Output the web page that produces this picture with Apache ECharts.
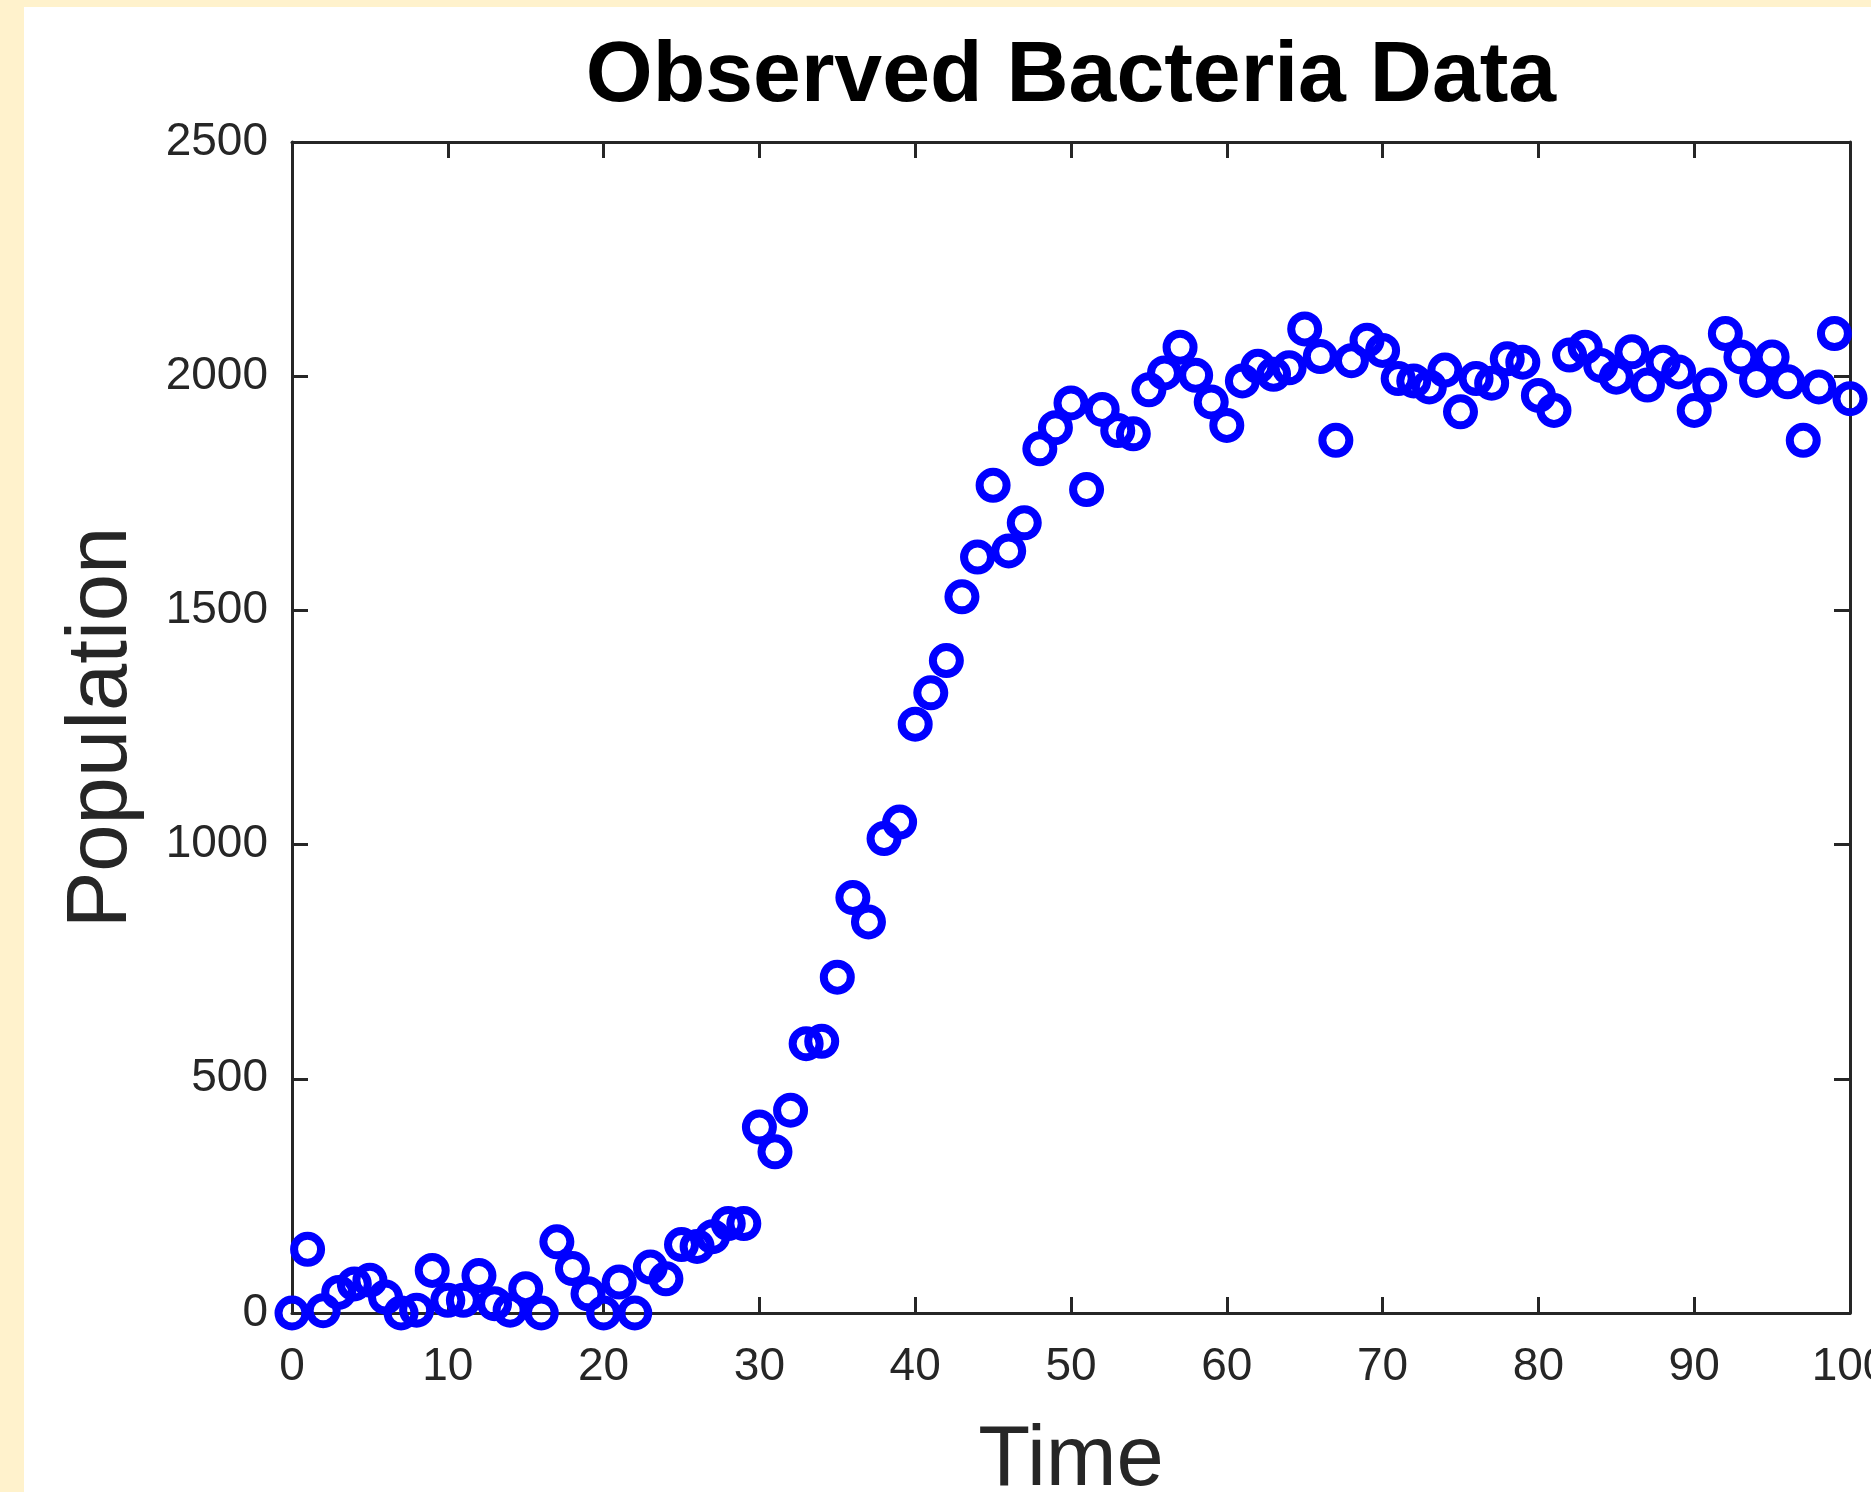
<!DOCTYPE html>
<html>
<head>
<meta charset="utf-8">
<title>Observed Bacteria Data</title>
<script src="https://cdn.jsdelivr.net/npm/echarts@6.0.0/dist/echarts.min.js"></script>
<style>
  html, body { margin: 0; padding: 0; background: #fff2cc; overflow: hidden; }
  #chart { position: absolute; left: 24px; top: 7px; width: 1847px; height: 1485px; background: #ffffff; }
</style>
</head>
<body>
<div id="chart"></div>
<script>
// observed time points (x) and population counts (y)
const timeData = [
  0, 1, 2, 3, 4, 5, 6, 7, 8, 9,
  10, 11, 12, 13, 14, 15, 16, 17, 18, 19,
  20, 21, 22, 23, 24, 25, 26, 27, 28, 29,
  30, 31, 32, 33, 34, 35, 36, 37, 38, 39,
  40, 41, 42, 43, 44, 45, 46, 47, 48, 49,
  50, 51, 52, 53, 54, 55, 56, 57, 58, 59,
  60, 61, 62, 63, 64, 65, 66, 67, 68, 69,
  70, 71, 72, 73, 74, 75, 76, 77, 78, 79,
  80, 81, 82, 83, 84, 85, 86, 87, 88, 89,
  90, 91, 92, 93, 94, 95, 96, 97, 98, 99,
  100
];
const populationData = [
  0, 136, 5, 44, 62, 70, 34, 0, 6, 91,
  27, 27, 80, 20, 6, 52, 0, 152, 95, 41,
  0, 66, 0, 98, 73, 146, 142, 163, 191, 191,
  397, 344, 433, 575, 580, 717, 887, 835, 1013, 1048,
  1257, 1324, 1393, 1529, 1614, 1767, 1627, 1687, 1845, 1890,
  1943, 1758, 1929, 1884, 1877, 1971, 2007, 2062, 2002, 1945,
  1895, 1990, 2021, 2004, 2018, 2101, 2042, 1863, 2033, 2077,
  2055, 1995, 1990, 1977, 2013, 1924, 1995, 1985, 2037, 2030,
  1959, 1927, 2045, 2062, 2023, 1998, 2052, 1981, 2030, 2009,
  1927, 1981, 2091, 2041, 1991, 2041, 1988, 1863, 1977, 2091,
  1952
];
const xTicks = [0, 100, 10];      // min, max, step
const yTicks = [0, 2500, 500];

const axisColor = '#262626';
const fontFamily = "'Liberation Sans', Arial, sans-serif";

let myChart = echarts.init(document.getElementById('chart'));

// box axes: bottom/left carry the labels, top/right only mirror the ticks
function makeAxis(range, position, showLabel, extra) {
  return Object.assign({
    type: 'value',
    position: position,
    min: range[0],
    max: range[1],
    interval: range[2],
    axisLine: { show: true, onZero: false, lineStyle: { color: axisColor, width: 3 } },
    axisTick: { show: true, inside: true, length: 16, lineStyle: { color: axisColor, width: 3 } },
    axisLabel: {
      show: showLabel, color: axisColor, fontSize: 46, fontFamily: fontFamily,
      formatter: function (value) { return String(value); }
    },
    splitLine: { show: false }
  }, extra || {});
}

const xBottom = makeAxis(xTicks, 'bottom', true, {
  name: 'Time',
  nameLocation: 'middle',
  nameGap: 106,
  nameTextStyle: { color: axisColor, fontSize: 85, fontFamily: fontFamily }
});
xBottom.axisLabel.margin = 31;

const yLeft = makeAxis(yTicks, 'left', true, {
  name: 'Population',
  nameLocation: 'middle',
  nameGap: 147,
  nameTextStyle: { color: axisColor, fontSize: 85, fontFamily: fontFamily }
});
yLeft.axisLabel.margin = 24;

let option = {
  animation: false,
  backgroundColor: '#ffffff',
  title: {
    text: 'Observed Bacteria Data',
    left: 1047,
    top: 27,
    padding: 0,
    textAlign: 'center',
    textStyle: { color: '#000000', fontSize: 86, fontWeight: 'bold', fontFamily: fontFamily }
  },
  grid: { left: 268, right: 21, top: 135, bottom: 179, outerBoundsMode: 'none', containLabel: false },
  xAxis: [xBottom, makeAxis(xTicks, 'top', false)],
  yAxis: [yLeft, makeAxis(yTicks, 'right', false)],
  series: [{
    type: 'scatter',
    xAxisIndex: 0,
    yAxisIndex: 0,
    clip: false,
    symbol: 'circle',
    symbolSize: 27,
    itemStyle: { color: 'rgba(0,0,0,0)', borderColor: '#0000ff', borderWidth: 8, opacity: 1 },
    data: timeData.map((t, i) => [t, populationData[i]])
  }]
};

myChart.setOption(option);
</script>
</body>
</html>
